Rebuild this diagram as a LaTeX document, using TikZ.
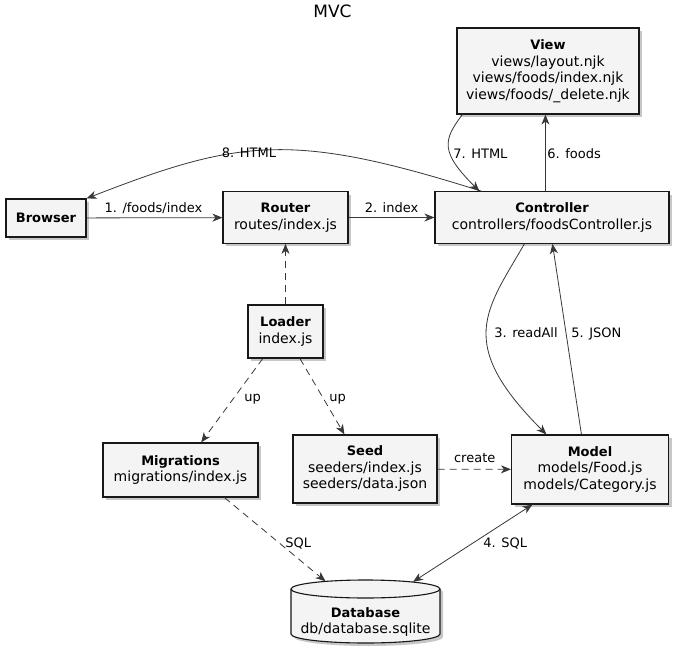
\documentclass[tikz,border=0pt]{standalone}
\usepackage{fontspec}
\setmainfont{DejaVu Sans}
\usetikzlibrary{arrows.meta,shadows,calc}
\definecolor{boxfill}{HTML}{F4F4F4}
\definecolor{boxline}{HTML}{181818}
\definecolor{edgecol}{HTML}{383838}
\newcommand\boxf{\fontsize{14}{16.5}\selectfont}
\newcommand\labf{\fontsize{13}{15}\selectfont}
\newcommand\boxtitle[1]{{\fontsize{13}{16.5}\selectfont\bfseries #1}}
\begin{document}
\begin{tikzpicture}[x=1pt,y=-1pt,
  pu/.tip={Stealth[length=10pt,width=8pt,inset=3pt]},
  comp/.style={draw=boxline, line width=1.1pt, fill=boxfill, inner sep=0pt, align=center, font=\boxf,
    drop shadow={shadow xshift=3pt, shadow yshift=-3pt, opacity=0.22, fill=black}},
  conn/.style={draw=edgecol, line width=0.8pt, -pu},
  dconn/.style={conn, dash pattern=on 7pt off 5pt},
  lab/.style={font=\labf, inner sep=0pt, text=black},
]
\useasboundingbox (0,0) rectangle (681,654);
\fill[white] (0,0) rectangle (681,654);

\node[font=\fontsize{17}{20}\selectfont, anchor=base, inner sep=0pt] (title) at (332.5,17) {MVC};

\node[comp, minimum width=182, minimum height=86] (view) at (548,71)
  {\boxtitle{View}\\views/layout.njk\\views/foods/index.njk\\views/foods/\_delete.njk};
\node[comp, minimum width=234, minimum height=51.5] (controller) at (552,217.5)
  {\boxtitle{Controller}\\controllers/foodsController.js};
\node[comp, minimum width=80, minimum height=38] (browser) at (46,218)
  {\boxtitle{Browser}};
\node[comp, minimum width=125, minimum height=51.5] (router) at (285.5,217.5)
  {\boxtitle{Router}\\routes/index.js};
\node[comp, minimum width=75, minimum height=53] (loader) at (285.5,331.5)
  {\boxtitle{Loader}\\index.js};
\node[comp, minimum width=155, minimum height=54] (migrations) at (180.5,470)
  {\boxtitle{Migrations}\\migrations/index.js};
\node[comp, minimum width=144, minimum height=68] (seed) at (365,469)
  {\boxtitle{Seed}\\seeders/index.js\\seeders/data.json};
\node[comp, minimum width=157, minimum height=69] (model) at (590,469.5)
  {\boxtitle{Model}\\models/Food.js\\models/Category.js};

% database cylinder
\fill[black, opacity=0.22, shift={(3,3)}]
  (291,589) -- (291,634) .. controls (291,638.97) and (324.35,643) .. (365.5,643)
  .. controls (406.65,643) and (440,638.97) .. (440,634) -- (440,589)
  .. controls (440,584.03) and (406.65,580) .. (365.5,580)
  .. controls (324.35,580) and (291,584.03) .. (291,589) -- cycle;
\draw[draw=boxline, line width=1.1pt, fill=boxfill]
  (291,589) -- (291,634) .. controls (291,638.97) and (324.35,643) .. (365.5,643)
  .. controls (406.65,643) and (440,638.97) .. (440,634) -- (440,589)
  .. controls (440,584.03) and (406.65,580) .. (365.5,580)
  .. controls (324.35,580) and (291,584.03) .. (291,589) -- cycle;
\draw[draw=boxline, line width=1.1pt]
  (291,589) .. controls (291,593.97) and (324.35,598) .. (365.5,598)
  .. controls (406.65,598) and (440,593.97) .. (440,589);
\node[inner sep=0pt, minimum width=149, minimum height=63] (db) at (365.5,611.5) {};
\node[inner sep=0pt, align=center, font=\boxf] (dbtext) at (365.5,622)
  {\boxtitle{Database}\\db/database.sqlite};

% connectors
\draw[conn] (browser) -- (router)
  node[lab, anchor=base] at (153.5,212) {1. /foods/index};
\draw[conn] (router) -- (controller)
  node[lab, anchor=base] at (391.5,212) {2. index};
\draw[conn] ($(controller.north west)+(47,0)$)
  .. controls (291.6,131.1) and (238.9,139.2) .. (browser.north east)
  node[lab, anchor=base] at (249,157.7) {8. HTML};
\draw[conn] ($(view.south west)+(6,0)$)
  .. controls (443,140) and (440,152) .. ($(controller.north west)+(45,0)$)
  node[lab, anchor=base west] at (453,158.3) {7. HTML};
\draw[conn] ($(controller.north west)+(111,0)$) -- ($(view.south west)+(89,0)$)
  node[lab, anchor=base west] at (547,158.3) {6. foods};
\draw[conn] ($(controller.south west)+(90,0)$)
  .. controls (486,310.5) and (455,343) .. ($(model.north west)+(35.5,0)$)
  node[lab, anchor=base west] at (494,337.3) {3. readAll};
\draw[conn] ($(model.north west)+(70.5,0)$) -- ($(controller.south west)+(118,0)$)
  node[lab, anchor=base west] at (571,337.3) {5. JSON};
\draw[dconn] (loader) -- (router);
\draw[dconn] ($(loader.south west)+(15.3,0)$) -- ($(migrations.north west)+(98.7,0)$)
  node[lab, anchor=base west] at (244,401) {up};
\draw[dconn] ($(loader.south west)+(52.5,0)$) -- ($(seed.north west)+(52,0)$)
  node[lab, anchor=base west] at (329,401) {up};
\draw[dconn] (seed) -- (model)
  node[lab, anchor=base] at (474.7,462.7) {create};
\draw[dconn] ($(migrations.south west)+(122,0)$) -- ($(db.north)+(-40,1.5)$)
  node[lab, anchor=base west] at (285,547) {SQL};
\draw[conn, pu-pu] ($(model.south west)+(21.5,0)$) -- ($(db.north)+(47.5,2)$)
  node[lab, anchor=base west] at (483,547) {4. SQL};
\end{tikzpicture}
\end{document}
